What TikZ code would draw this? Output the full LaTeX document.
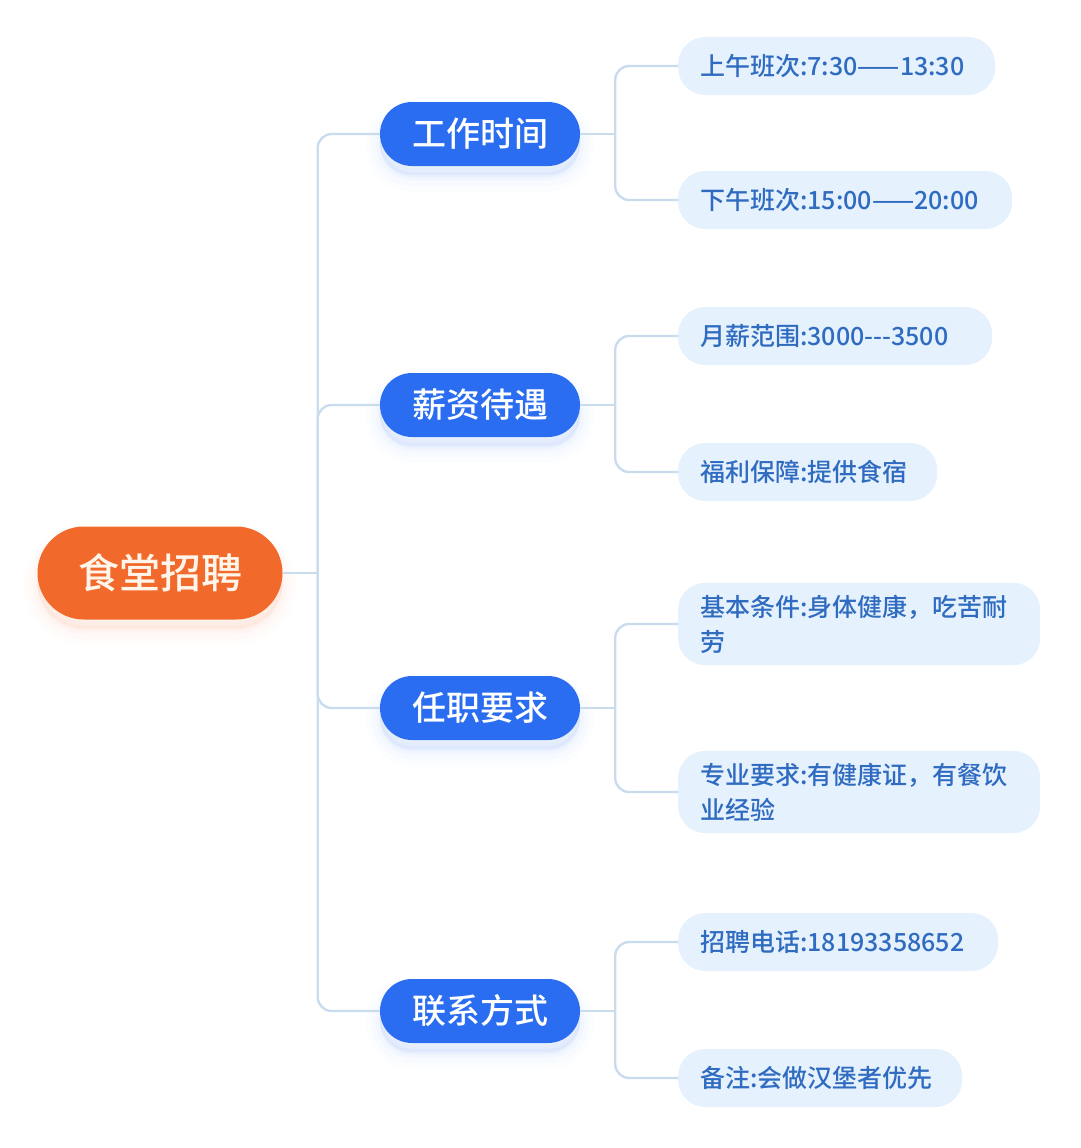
\documentclass[tikz,border=0pt]{standalone}
\usepackage{fontspec}
\setmainfont{Noto Sans CJK SC Medium}
\usetikzlibrary{positioning,shapes.misc}
\definecolor{rootc}{HTML}{F26A2B}
\definecolor{topc}{HTML}{2A6DF0}
\definecolor{leafc}{HTML}{E5F1FC}
\definecolor{leaft}{HTML}{2F6BC0}
\definecolor{wire}{HTML}{C8DCEE}
\tikzset{
  pill/.style={rounded rectangle, inner sep=0pt, text=white},
  halo/.style={
    preaction={draw=#1, fill=#1, line width=28pt, opacity=0.015, transform canvas={yshift=-12pt}},
    preaction={draw=#1, fill=#1, line width=18pt, opacity=0.02, transform canvas={yshift=-11pt}},
    preaction={draw=#1, fill=#1, line width=9pt, opacity=0.025, transform canvas={yshift=-10pt}},
    preaction={draw=#1, fill=#1, line width=2pt, opacity=0.03, transform canvas={yshift=-8pt}}},
  conn/.style={draw=wire, line width=2.4pt, rounded corners=14pt}}

\begin{document}
\begin{tikzpicture}[x=1pt, y=-1pt,
  topic/.style={pill, fill=topc, halo=topc, minimum width=200pt, minimum height=64pt, font=\fontsize{34}{40}\selectfont},
  leaf/.style={fill=leafc, text=leaft, rounded corners=27pt, anchor=west, minimum height=58pt,
    inner xsep=22pt, inner ysep=12pt, align=left, text width=#1, font=\fontsize{25}{35}\selectfont}]
\useasboundingbox (0,0) rectangle (1080,1148);
\node[pill, fill=rootc, halo=rootc, text=white!92!orange, minimum width=245pt, minimum height=93pt, font=\fontsize{41}{48}\selectfont] (root) at (160,573) {食堂招聘};
\node[topic] (t1) at (480,134) {工作时间};
\node[topic] (t2) at (480,405) {薪资待遇};
\node[topic] (t3) at (480,708) {任职要求};
\node[topic] (t4) at (480,1011) {联系方式};
\node[leaf=273pt] (l11) at (678,66) {上午班次:7:30——13:30};
\node[leaf=290pt] (l12) at (678,200) {下午班次:15:00——20:00};
\node[leaf=270pt] (l21) at (678,336) {月薪范围:3000{-}{-}{-}3500};
\node[leaf=215pt] (l22) at (678,472) {福利保障:提供食宿};
\node[leaf=318pt] (l31) at (678,624) {基本条件:身体健康，吃苦耐\\劳};
\node[leaf=318pt] (l32) at (678,792) {专业要求:有健康证，有餐饮\\业经验};
\node[leaf=276pt] (l41) at (678,942) {招聘电话:18193358652};
\node[leaf=240pt] (l42) at (678,1078) {备注:会做汉堡者优先};
\draw[conn] (root.east) -- ++(35,0) coordinate (hub);
\foreach \t in {t1,t2,t3,t4} \draw[conn] (hub) |- (\t.west);
\foreach \t/\a/\b in {t1/l11/l12, t2/l21/l22, t3/l31/l32, t4/l41/l42} {
  \draw[conn] (\t.east) -- ++(35,0) coordinate (h\t);
  \draw[conn] (h\t) |- (\a.west);
  \draw[conn] (h\t) |- (\b.west);}
\end{tikzpicture}
\end{document}
